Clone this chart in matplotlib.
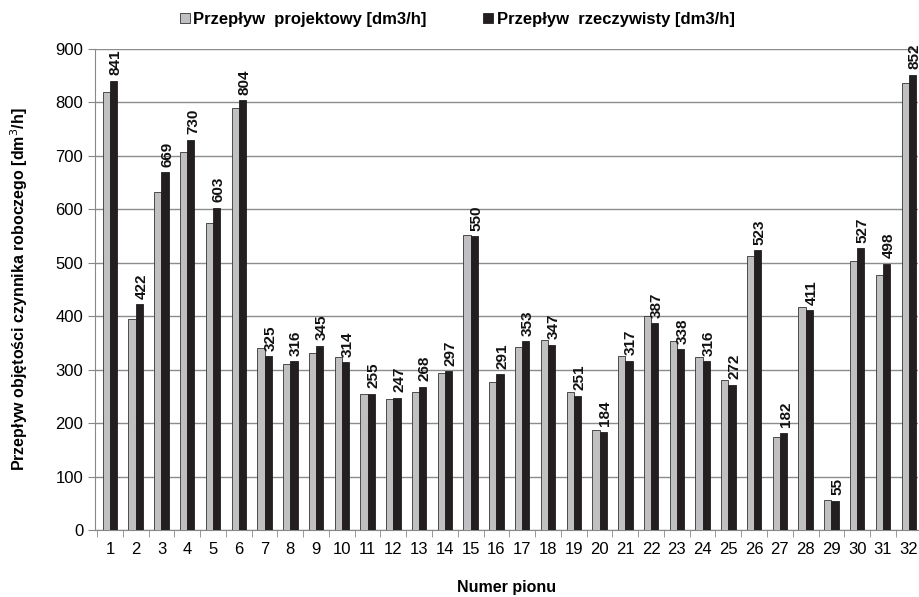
import numpy as np
import matplotlib
matplotlib.use('Agg')
import matplotlib.pyplot as plt
from matplotlib.ticker import FixedLocator

plt.rcParams['font.family'] = ['Liberation Sans', 'DejaVu Sans']

piony = list(range(1, 33))
projektowy = [819, 394, 632, 708, 574, 789, 340, 311, 332, 323, 254,
              245, 258, 294, 552, 277, 343, 356, 258, 187, 326,
              400, 353, 323, 281, 513, 174, 417, 56, 503, 477, 837]
rzeczywisty = [841, 422, 669, 730, 603, 804, 325, 316, 345, 314, 255,
               247, 268, 297, 550, 291, 353, 347, 251, 184, 317,
               387, 338, 316, 272, 523, 182, 411, 55, 527, 498, 852]

fig = plt.figure(figsize=(9.2, 5.97), dpi=100)
ax = fig.add_axes([95/920, 1 - 530/597, 823/920, 481/597])

x = np.array(piony)
w = 0.28
ax.bar(x - w/2, projektowy, w, color='#c0c0c2', edgecolor='#333333', linewidth=0.6,
       label='Przepływ  projektowy [dm3/h]', zorder=3)
ax.bar(x + w/2, rzeczywisty, w, color='#231f20', edgecolor='#231f20', linewidth=0.6,
       label='Przepływ  rzeczywisty [dm3/h]', zorder=3)

for xi, v in zip(x, rzeczywisty):
    ax.annotate(str(v), (xi + w/2, v), xytext=(1.5, 4), textcoords='offset points',
                rotation=90, ha='center', va='bottom', fontsize=11,
                fontweight='bold', color='#111111', annotation_clip=False)

ax.set_ylim(0, 900)
ax.set_xlim(0.42, 32.36)
ax.set_yticks(range(0, 901, 100))
ax.set_xticks(x)
ax.xaxis.set_minor_locator(FixedLocator(np.arange(0.5, 32.6, 1)))
ax.tick_params(axis='x', which='major', length=0, labelsize=12, pad=9)
ax.tick_params(axis='x', which='minor', length=5, color='#888888')
ax.tick_params(axis='y', length=5, color='#888888', labelsize=12)
ax.grid(axis='y', color='#8c8c8c', linewidth=1, zorder=0)
for s in ['top', 'right']:
    ax.spines[s].set_visible(False)
for s in ['left', 'bottom']:
    ax.spines[s].set_color('#888888')

ax.set_ylabel('Przepływ objętości czynnika roboczego [dm$^3$/h]', fontsize=11.5,
              fontweight='bold', labelpad=18)
ax.set_xlabel('Numer pionu', fontsize=11.5, fontweight='bold', labelpad=16)

leg = ax.legend(loc='lower center', bbox_to_anchor=(0.44, 1.015), ncol=2, frameon=False,
                prop={'weight': 'bold', 'size': 12}, handlelength=0.6,
                handleheight=0.6, handletextpad=0.2, columnspacing=3.4)

fig.savefig('out.png', dpi=100)
